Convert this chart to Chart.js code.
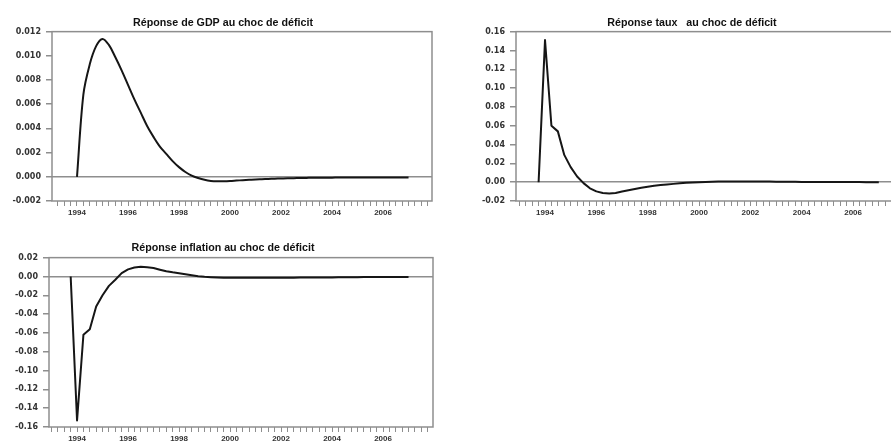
<!DOCTYPE html>
<html><head><meta charset="utf-8">
<script src="https://cdn.jsdelivr.net/npm/chart.js@4"></script>
<style>
html,body{margin:0;padding:0;background:#fff;overflow:hidden;width:891px;height:441px;position:relative;}
canvas{position:absolute;}
</style></head><body>
<canvas id="c1" width="446" height="222" style="left:0;top:0;width:446px;height:222px"></canvas>
<canvas id="c2" width="494" height="222" style="left:445px;top:0;width:494px;height:222px"></canvas>
<canvas id="c3" width="446" height="216" style="left:0;top:225px;width:446px;height:216px"></canvas>
<script>
// Quarterly periods (categories)
const quarters = ['1993Q4',
 '1994Q1','1994Q2','1994Q3','1994Q4','1995Q1','1995Q2','1995Q3','1995Q4',
 '1996Q1','1996Q2','1996Q3','1996Q4','1997Q1','1997Q2','1997Q3','1997Q4',
 '1998Q1','1998Q2','1998Q3','1998Q4','1999Q1','1999Q2','1999Q3','1999Q4',
 '2000Q1','2000Q2','2000Q3','2000Q4','2001Q1','2001Q2','2001Q3','2001Q4',
 '2002Q1','2002Q2','2002Q3','2002Q4','2003Q1','2003Q2','2003Q3','2003Q4',
 '2004Q1','2004Q2','2004Q3','2004Q4','2005Q1','2005Q2','2005Q3','2005Q4',
 '2006Q1','2006Q2','2006Q3','2006Q4','2007Q1'];

// Tick labels on the time axis
const yearLabels = [1994, 1996, 1998, 2000, 2002, 2004, 2006];

// Titles
const titleGDP = 'Réponse de GDP au choc de déficit';
const titleTaux = 'Réponse taux   au choc de déficit';
const titleInfl = 'Réponse inflation au choc de déficit';

// Series values
const gdpResponse = [null, 0, 0.0068, 0.0093, 0.0108, 0.0114, 0.0109, 0.0099, 0.0088, 0.0076,
 0.0064, 0.0053, 0.0042, 0.0033, 0.0025, 0.0019, 0.0013, 0.0008, 0.0004, 0.0001,
 -0.0001, -0.00025, -0.00034, -0.00037, -0.00036, -0.00034, -0.00031, -0.00028, -0.00025, -0.00022,
 -0.0002, -0.00018, -0.00016, -0.00014, -0.00012, -0.00011, -0.0001, -0.00009, -0.00008, -0.00008,
 -0.00007, -0.00007, -0.00006, -0.00006, -0.00006, -0.00005, -0.00005, -0.00005, -0.00005, -0.00005,
 -0.00005, -0.00005, -0.00005, -0.00005];

const tauxResponse = [0, 0.151, 0.060, 0.054, 0.029, 0.016, 0.006, -0.001, -0.0065, -0.0098,
 -0.0115, -0.0119, -0.0115, -0.0100, -0.0085, -0.0072, -0.0060, -0.0049, -0.0039, -0.0031,
 -0.0024, -0.0018, -0.0012, -0.0007, -0.0003, 0.0000, 0.0003, 0.0005, 0.0007, 0.0008,
 0.0008, 0.0008, 0.0008, 0.0007, 0.0007, 0.0006, 0.0006, 0.0005, 0.0005, 0.0004,
 0.0004, 0.0003, 0.0003, 0.0003, 0.0002, 0.0002, 0.0002, 0.0001, 0.0001, 0.0001,
 0.0001, 0.0000, 0.0000, 0.0000];

const inflResponse = [0, -0.153, -0.062, -0.056, -0.032, -0.020, -0.010, -0.0035, 0.0035, 0.0075,
 0.0095, 0.0102, 0.0098, 0.0090, 0.0072, 0.0055, 0.0044, 0.0035, 0.0024, 0.0014,
 0.0003, -0.0004, -0.0008, -0.0011, -0.0013, -0.0014, -0.0015, -0.0015, -0.0015, -0.0015,
 -0.0015, -0.0014, -0.0014, -0.0014, -0.0013, -0.0013, -0.0012, -0.0012, -0.0011, -0.0011,
 -0.0010, -0.0010, -0.0009, -0.0009, -0.0008, -0.0008, -0.0007, -0.0007, -0.0006, -0.0006,
 -0.0006, -0.0005, -0.0005, -0.0005];

const GREY = '#8e8e8e';
const LABEL = '#333333';

function quarterToX(q) {
  return parseInt(q.slice(0, 4), 10) + (parseInt(q.slice(5), 10) - 1) / 4;
}

const framePlugin = {
  id: 'panelFrame',
  beforeDatasetsDraw(chart) {
    const { ctx, chartArea: a } = chart;
    ctx.save();
    ctx.strokeStyle = GREY;
    ctx.lineWidth = 1.5;
    ctx.strokeRect(a.left, a.top, a.right - a.left, a.bottom - a.top);
    ctx.restore();
  }
};

function makeChart(id, values, title, cfg) {
  const pts = values.map((v, i) => ({ x: quarterToX(quarters[i]), y: v }));
  return new Chart(document.getElementById(id), {
    type: 'line',
    data: { datasets: [{ data: pts, borderColor: '#161616', borderWidth: 2, pointRadius: 0,
      tension: cfg.tension, fill: false, spanGaps: false, borderJoinStyle: 'round' }] },
    options: {
      responsive: false, animation: false, devicePixelRatio: 1,
      layout: { padding: 0 },
      plugins: {
        legend: { display: false }, tooltip: { enabled: false },
        title: { display: true, text: title, color: '#111',
          font: { family: '"Liberation Sans", Arial, sans-serif', weight: 'bold', size: 10.7 },
          padding: { top: 16.4, bottom: cfg.titleBottom } }
      },
      scales: {
        x: {
          type: 'linear', position: 'bottom', min: cfg.xmin, max: cfg.xmax,
          afterBuildTicks: s => {
            const t = [];
            for (let q = Math.ceil(s.min * 4); q <= Math.floor(s.max * 4); q++) t.push({ value: q / 4 });
            s.ticks = t;
          },
          afterFit: s => { s.height = cfg.xh; },
          border: { display: false },
          grid: { drawOnChartArea: false, drawTicks: true, tickLength: 5, color: GREY, tickColor: GREY, lineWidth: 1 },
          ticks: { autoSkip: false, maxRotation: 0, minRotation: 0, padding: 2, color: LABEL,
            font: { family: '"Liberation Sans", Arial, sans-serif', weight: 'bold', size: 8 },
            callback: v => yearLabels.includes(v) ? String(v) : '' }
        },
        y: {
          position: 'left', min: cfg.ymin, max: cfg.ymax,
          afterFit: s => { s.width = cfg.yw; },
          border: { display: false },
          grid: { drawOnChartArea: true, drawTicks: true, tickLength: 6, lineWidth: 1.5,
            color: c => (c.tick && Math.abs(c.tick.value) < 1e-12) ? GREY : 'rgba(0,0,0,0)',
            tickColor: GREY },
          ticks: { stepSize: cfg.step, padding: 5, color: LABEL, autoSkip: false,
            font: { family: '"DejaVu Sans", sans-serif', weight: 'bold', size: 8 },
            callback: v => Number(v).toFixed(cfg.dec) }
        },
        yR: {
          position: 'right', min: 0, max: 1, display: true,
          afterFit: s => { s.width = cfg.rw; },
          border: { display: false }, grid: { display: false }, ticks: { display: false }
        }
      }
    },
    plugins: [framePlugin]
  });
}

makeChart('c1', gdpResponse, titleGDP,
  { xmin: 1993.02, xmax: 2007.92, ymin: -0.002, ymax: 0.012, step: 0.002, dec: 3, yw: 52, rw: 14, xh: 21, titleBottom: 2.4, tension: 0.35 });
makeChart('c2', tauxResponse, titleTaux,
  { xmin: 1992.87, xmax: 2007.67, ymin: -0.02, ymax: 0.16, step: 0.02, dec: 2, yw: 71, rw: 43, xh: 21, titleBottom: 2.4, tension: 0 });
makeChart('c3', inflResponse, titleInfl,
  { xmin: 1992.9, xmax: 2007.96, ymin: -0.16, ymax: 0.02, step: 0.02, dec: 2, yw: 49, rw: 13, xh: 14, titleBottom: 3.4, tension: 0 });
</script>
</body></html>
